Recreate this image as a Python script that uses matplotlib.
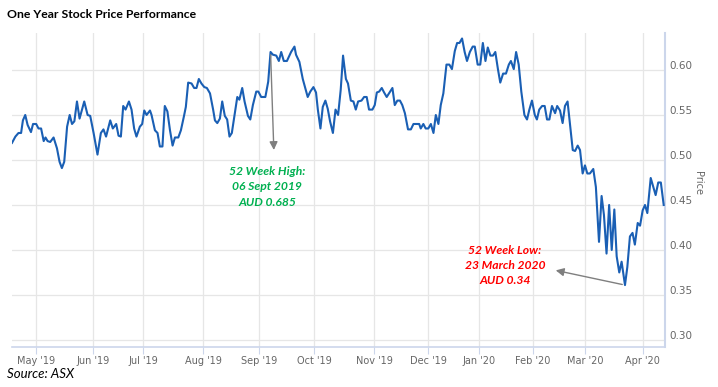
import numpy as np
import matplotlib
matplotlib.use("Agg")
import matplotlib.pyplot as plt
import matplotlib.transforms as mtransforms

# trading-day index (ordinal axis, weekends skipped) and closing price
day = [0.0, 1.3, 2.5, 3.5, 4.2, 5.1, 6.0, 7.3, 8.1, 9.3, 10.2, 11.2, 12.2, 12.9, 13.7, 14.7,
       16.0, 17.3, 18.3, 19.2, 20.1, 21.2, 22.2, 23.1, 24.0, 25.0, 26.0, 27.8, 29.1, 30.1, 31.4,
       32.9, 34.2, 35.2, 36.2, 37.8, 38.8, 40.1, 41.0, 41.9, 42.8, 43.7, 45.0, 46.0, 47.0, 47.9,
       49.2, 50.1, 50.9, 51.8, 53.1, 53.7, 55.0, 56.0, 56.9, 57.9, 58.8, 59.8, 60.8, 61.8, 62.7,
       64.0, 65.0, 66.2, 66.9, 67.8, 69.1, 70.1, 71.0, 71.9, 72.9, 74.0, 75.0, 76.2, 77.4, 78.1,
       79.0, 80.0, 80.9, 81.9, 82.8, 83.7, 84.6, 85.6, 86.7, 87.5, 88.6, 89.5, 90.8, 91.7, 92.7,
       94.0, 94.8, 95.9, 97.5, 98.6, 99.5, 100.4, 101.7, 102.7, 103.6, 104.6, 105.8, 107.4, 108.7,
       109.3, 110.6, 111.9, 113.8, 114.8, 116.0, 117.0, 117.7, 118.7, 119.6, 120.6, 121.5, 122.4,
       123.5, 124.5, 125.5, 126.5, 127.4, 128.5, 129.3, 130.4, 131.4, 132.3, 133.2, 134.5, 135.5,
       136.5, 137.4, 138.7, 139.6, 140.4, 141.3, 142.3, 143.2, 144.2, 145.5, 146.4, 147.3, 148.3,
       149.3, 150.2, 151.2, 152.4, 153.5, 154.5, 155.8, 156.7, 157.3, 158.3, 159.2, 160.2, 161.2,
       162.2, 163.1, 164.1, 165.0, 166.0, 167.2, 168.3, 169.3, 170.4, 171.3, 172.2, 173.2, 174.2,
       175.1, 176.2, 177.3, 178.1, 179.2, 180.2, 181.2, 182.2, 183.1, 184.1, 185.1, 186.0, 187.0,
       187.9, 189.0, 190.1, 191.2, 192.0, 193.1, 194.0, 195.0, 196.0, 197.2, 198.2, 199.1, 200.1,
       201.2, 202.0, 202.9, 204.0, 205.0, 205.9, 206.8, 207.8, 209.0, 209.8, 210.9, 211.9, 212.8,
       213.8, 214.7, 215.8, 216.7, 217.7, 218.6, 219.6, 220.5, 221.4, 222.4, 223.7, 224.7, 225.9,
       226.9, 227.8, 228.8, 229.8, 230.8, 231.8, 232.7, 233.7, 234.6, 235.9, 236.8, 237.8, 238.8,
       239.7, 240.8, 241.7, 242.7, 243.6, 244.5, 245.8, 246.8, 247.7, 248.7, 249.7, 250.8]
price = [0.519, 0.526, 0.530, 0.530, 0.544, 0.550, 0.539, 0.531, 0.540, 0.540, 0.535, 0.535, 0.521,
         0.525, 0.521, 0.520, 0.525, 0.513, 0.498, 0.491, 0.498, 0.537, 0.550, 0.540, 0.543, 0.565,
         0.546, 0.565, 0.550, 0.549, 0.530, 0.506, 0.530, 0.534, 0.526, 0.544, 0.535, 0.540, 0.527,
         0.526, 0.560, 0.556, 0.565, 0.556, 0.535, 0.526, 0.537, 0.540, 0.555, 0.550, 0.555, 0.550,
         0.533, 0.530, 0.515, 0.515, 0.560, 0.554, 0.533, 0.516, 0.525, 0.525, 0.533, 0.549, 0.559,
         0.586, 0.585, 0.580, 0.580, 0.590, 0.585, 0.581, 0.580, 0.574, 0.556, 0.544, 0.541, 0.546,
         0.565, 0.549, 0.545, 0.526, 0.530, 0.549, 0.570, 0.567, 0.580, 0.565, 0.549, 0.545, 0.561,
         0.576, 0.576, 0.570, 0.570, 0.587, 0.620, 0.617, 0.616, 0.610, 0.620, 0.610, 0.610, 0.620,
         0.626, 0.617, 0.609, 0.590, 0.570, 0.576, 0.581, 0.575, 0.556, 0.535, 0.559, 0.566, 0.557,
         0.543, 0.530, 0.556, 0.550, 0.578, 0.616, 0.590, 0.585, 0.566, 0.565, 0.556, 0.565, 0.566,
         0.570, 0.570, 0.556, 0.556, 0.561, 0.575, 0.576, 0.580, 0.575, 0.570, 0.576, 0.580, 0.561,
         0.566, 0.566, 0.561, 0.552, 0.534, 0.534, 0.540, 0.540, 0.540, 0.535, 0.540, 0.535, 0.535,
         0.540, 0.530, 0.550, 0.540, 0.561, 0.574, 0.606, 0.606, 0.601, 0.621, 0.630, 0.630, 0.635,
         0.620, 0.610, 0.620, 0.626, 0.626, 0.606, 0.606, 0.630, 0.610, 0.625, 0.616, 0.616, 0.620,
         0.601, 0.586, 0.596, 0.596, 0.606, 0.610, 0.601, 0.620, 0.606, 0.576, 0.550, 0.545, 0.556,
         0.566, 0.550, 0.545, 0.556, 0.560, 0.560, 0.545, 0.545, 0.560, 0.552, 0.560, 0.555, 0.541,
         0.560, 0.565, 0.541, 0.511, 0.510, 0.516, 0.511, 0.485, 0.494, 0.485, 0.485, 0.490, 0.470,
         0.409, 0.460, 0.439, 0.396, 0.450, 0.400, 0.445, 0.393, 0.375, 0.387, 0.361, 0.381, 0.415,
         0.419, 0.406, 0.430, 0.427, 0.444, 0.450, 0.441, 0.480, 0.470, 0.461, 0.475, 0.475, 0.450]

month_pos = [9.3, 31.3, 50.5, 73.6, 95.1, 116.3, 139.3, 160.1, 179.7, 200.5, 220.5, 242.8]
month_lbl = ["May '19", "Jun '19", "Jul '19", "Aug '19", "Sep '19", "Oct '19",
             "Nov '19", "Dec '19", "Jan '20", "Feb '20", "Mar '20", "Apr '20"]
price_ticks = [0.30, 0.35, 0.40, 0.45, 0.50, 0.55, 0.60]

fig = plt.figure(figsize=(7.18, 3.87), dpi=100)
ax = fig.add_axes([12 / 718, 40 / 387, 653 / 718, 314 / 387])

ax.plot(day, price, color='#1a5fb4', lw=1.5, zorder=3)

ax.set_xlim(0, 251.3)
ax.set_ylim(0.2922, 0.6411)
ax.set_xticks(month_pos)
ax.set_xticklabels(month_lbl)
ax.set_yticks(price_ticks)
ax.set_yticklabels(['%.2f' % p for p in price_ticks])
ax.yaxis.tick_right()
ax.set_ylabel('Price', rotation=270, color='#666666', fontsize=7, va='center')
ax.yaxis.set_label_coords(1.051, 0.522)

ax.grid(True, color='#e6e6e6', lw=0.9)
ax.set_axisbelow(True)
for s in ['top', 'left']:
    ax.spines[s].set_visible(False)
ax.spines['bottom'].set_color('#ccd6eb')
ax.spines['right'].set_color('#ccd6eb')
ax.spines['bottom'].set_linewidth(1.2)
ax.spines['right'].set_linewidth(1.5)
ax.tick_params(axis='x', colors='#ccd6eb', labelcolor='#666666', labelsize=7, length=5, pad=1.5)
ax.tick_params(axis='y', length=0, labelcolor='#666666', labelsize=7.5, pad=3)

# highcharts puts the y labels a little above their grid line
shift = mtransforms.ScaledTranslation(0, 5 / 100, fig.dpi_scale_trans)
for lab in ax.get_yticklabels():
    lab.set_transform(lab.get_transform() + shift)

# annotations
ax.annotate('', xy=(100.8, 0.508), xytext=(99.5, 0.620),
            arrowprops=dict(arrowstyle='-|>', color='#7f7f7f', lw=1, mutation_scale=12))
ax.text(98.2, 0.470, '52 Week High:\n06 Sept 2019\nAUD 0.685', color='#00b050',
        fontsize=8.7, fontweight='bold', style='italic', ha='center', va='center',
        linespacing=1.45, family='Lato')
ax.annotate('', xy=(208.2, 0.378), xytext=(235.9, 0.361),
            arrowprops=dict(arrowstyle='-|>', color='#7f7f7f', lw=1, mutation_scale=12))
ax.text(189.7, 0.383, '52 Week Low:\n23 March 2020\nAUD 0.34', color='#ff0000',
        fontsize=8.7, fontweight='bold', style='italic', ha='center', va='center',
        linespacing=1.45, family='Lato')

fig.text(7 / 718, 1 - 15 / 387, 'One Year Stock Price Performance', fontsize=8.8,
         fontweight='bold', family='Lato', va='center', ha='left')
fig.text(7 / 718, 1 - 374 / 387, 'Source: ASX', fontsize=9.5, style='italic',
         family='Lato', va='center', ha='left')

fig.savefig('out.png', dpi=100)
